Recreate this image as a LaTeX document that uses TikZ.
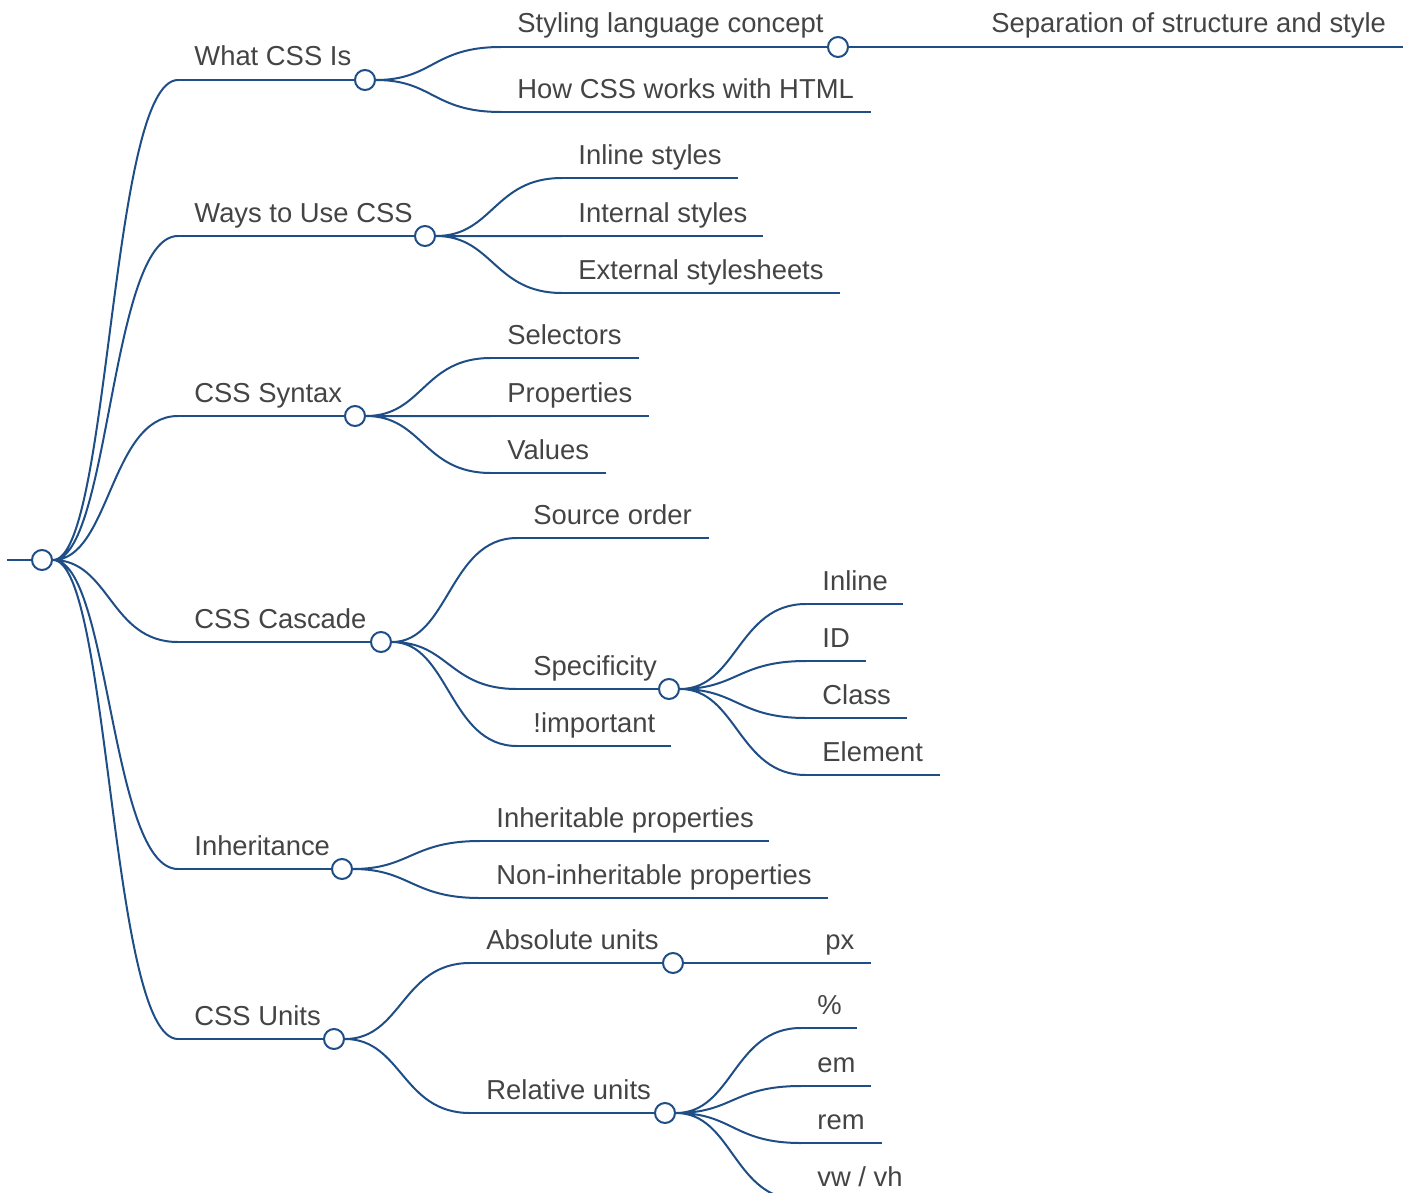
\documentclass[tikz,border=0pt]{standalone}
\usepackage{fontspec}
\setmainfont{Liberation Sans}
\usepackage{tikz}
\pgfdeclarelayer{background}
\pgfsetlayers{background,main}
\definecolor{mapblue}{RGB}{31,78,135}
\definecolor{mapgray}{RGB}{68,68,68}

\begin{document}
\begin{tikzpicture}[%
  x=0.5pt,y=-0.5pt,
  knob/.style={circle,draw=mapblue,fill=white,line width=1pt,minimum size=10pt,inner sep=0pt},
  topic/.style={anchor=base west,inner sep=0pt,text=mapgray,font=\fontsize{13.7}{16}\selectfont},
  bar/.style={draw=mapblue,line width=1pt},
  link/.style={bar,to path={.. controls +(68,0) and +(-68,0) .. (\tikztotarget)}}]
    \useasboundingbox (0,0) rectangle (1413,1193);
    % Root
    \coordinate (lead) at (7,560);
    \node[knob] (root) at (42,560) {};
    % What CSS Is
    \coordinate (what-s) at (178,80);
    \node[knob] (what) at (365,80) {};
    \node[topic] (what-t) at (194,66) {What CSS Is};
    \coordinate (styling-s) at (501,47);
    \node[knob] (styling) at (838,47) {};
    \node[topic] (styling-t) at (517,33) {Styling language concept};
    \coordinate (separation-s) at (975,47);
    \coordinate (separation-e) at (1403,47);
    \node[topic] (separation-t) at (991,33) {Separation of structure and style};
    \coordinate (howcss-s) at (501,112);
    \coordinate (howcss-e) at (871,112);
    \node[topic] (howcss-t) at (517,98) {How CSS works with HTML};
    % Ways to Use CSS
    \coordinate (ways-s) at (178,236);
    \node[knob] (ways) at (425,236) {};
    \node[topic] (ways-t) at (194,222) {Ways to Use CSS};
    \coordinate (inlinest-s) at (562,178);
    \coordinate (inlinest-e) at (738,178);
    \node[topic] (inlinest-t) at (578,164) {Inline styles};
    \coordinate (internal-s) at (562,236);
    \coordinate (internal-e) at (763,236);
    \node[topic] (internal-t) at (578,222) {Internal styles};
    \coordinate (external-s) at (562,293);
    \coordinate (external-e) at (840,293);
    \node[topic] (external-t) at (578,279) {External stylesheets};
    % CSS Syntax
    \coordinate (syntax-s) at (178,416);
    \node[knob] (syntax) at (355,416) {};
    \node[topic] (syntax-t) at (194,402) {CSS Syntax};
    \coordinate (selectors-s) at (491,358);
    \coordinate (selectors-e) at (639,358);
    \node[topic] (selectors-t) at (507,344) {Selectors};
    \coordinate (properties-s) at (491,416);
    \coordinate (properties-e) at (649,416);
    \node[topic] (properties-t) at (507,402) {Properties};
    \coordinate (values-s) at (491,473);
    \coordinate (values-e) at (606,473);
    \node[topic] (values-t) at (507,459) {Values};
    % CSS Cascade
    \coordinate (cascade-s) at (178,642);
    \node[knob] (cascade) at (381,642) {};
    \node[topic] (cascade-t) at (194,628) {CSS Cascade};
    \coordinate (source-s) at (517,538);
    \coordinate (source-e) at (709,538);
    \node[topic] (source-t) at (533,524) {Source order};
    \coordinate (specific-s) at (517,689);
    \node[knob] (specific) at (669,689) {};
    \node[topic] (specific-t) at (533,675) {Specificity};
    \coordinate (important-s) at (517,746);
    \coordinate (important-e) at (671,746);
    \node[topic] (important-t) at (533,732) {!important};
    \coordinate (inline-s) at (806,604);
    \coordinate (inline-e) at (903,604);
    \node[topic] (inline-t) at (822,590) {Inline};
    \coordinate (id-s) at (806,661);
    \coordinate (id-e) at (866,661);
    \node[topic] (id-t) at (822,647) {ID};
    \coordinate (class-s) at (806,718);
    \coordinate (class-e) at (907,718);
    \node[topic] (class-t) at (822,704) {Class};
    \coordinate (element-s) at (806,775);
    \coordinate (element-e) at (940,775);
    \node[topic] (element-t) at (822,761) {Element};
    % Inheritance
    \coordinate (inherit-s) at (178,869);
    \node[knob] (inherit) at (342,869) {};
    \node[topic] (inherit-t) at (194,855) {Inheritance};
    \coordinate (inheritable-s) at (480,841);
    \coordinate (inheritable-e) at (769,841);
    \node[topic] (inheritable-t) at (496,827) {Inheritable properties};
    \coordinate (noninherit-s) at (480,898);
    \coordinate (noninherit-e) at (828,898);
    \node[topic] (noninherit-t) at (496,884) {Non-inheritable properties};
    % CSS Units
    \coordinate (units-s) at (178,1039);
    \node[knob] (units) at (334,1039) {};
    \node[topic] (units-t) at (194,1025) {CSS Units};
    \coordinate (absolute-s) at (470,963);
    \node[knob] (absolute) at (673,963) {};
    \node[topic] (absolute-t) at (486,949) {Absolute units};
    \coordinate (px-s) at (809,963);
    \coordinate (px-e) at (871,963);
    \node[topic] (px-t) at (825,949) {px};
    \coordinate (relative-s) at (470,1113);
    \node[knob] (relative) at (665,1113) {};
    \node[topic] (relative-t) at (486,1099) {Relative units};
    \coordinate (percent-s) at (801,1028);
    \coordinate (percent-e) at (857,1028);
    \node[topic] (percent-t) at (817,1014) {\%};
    \coordinate (em-s) at (801,1086);
    \coordinate (em-e) at (871,1086);
    \node[topic] (em-t) at (817,1072) {em};
    \coordinate (rem-s) at (801,1143);
    \coordinate (rem-e) at (882,1143);
    \node[topic] (rem-t) at (817,1129) {rem};
    \coordinate (vwvh-s) at (801,1200);
    \coordinate (vwvh-e) at (870,1200);
    \node[topic] (vwvh-t) at (817,1186) {vw / vh};
    % Connectors
    \begin{pgfonlayer}{background}
      \draw[bar] (lead) -- (root);
      \draw[link] (root) to (what-s) (root) to (ways-s) (root) to (syntax-s)
        (root) to (cascade-s) (root) to (inherit-s) (root) to (units-s);
      \draw[bar] (what-s) -- (what) (ways-s) -- (ways) (syntax-s) -- (syntax)
        (cascade-s) -- (cascade) (inherit-s) -- (inherit) (units-s) -- (units);
      \draw[link] (what) to (styling-s) (what) to (howcss-s);
      \draw[bar] (styling-s) -- (styling) (howcss-s) -- (howcss-e);
      \draw[link] (styling) to (separation-s);
      \draw[bar] (separation-s) -- (separation-e);
      \draw[link] (ways) to (inlinest-s) (ways) to (internal-s) (ways) to (external-s);
      \draw[bar] (inlinest-s) -- (inlinest-e) (internal-s) -- (internal-e)
        (external-s) -- (external-e);
      \draw[link] (syntax) to (selectors-s) (syntax) to (properties-s) (syntax) to (values-s);
      \draw[bar] (selectors-s) -- (selectors-e) (properties-s) -- (properties-e)
        (values-s) -- (values-e);
      \draw[link] (cascade) to (source-s) (cascade) to (specific-s) (cascade) to (important-s);
      \draw[bar] (source-s) -- (source-e) (specific-s) -- (specific)
        (important-s) -- (important-e);
      \draw[link] (specific) to (inline-s) (specific) to (id-s)
        (specific) to (class-s) (specific) to (element-s);
      \draw[bar] (inline-s) -- (inline-e) (id-s) -- (id-e)
        (class-s) -- (class-e) (element-s) -- (element-e);
      \draw[link] (inherit) to (inheritable-s) (inherit) to (noninherit-s);
      \draw[bar] (inheritable-s) -- (inheritable-e) (noninherit-s) -- (noninherit-e);
      \draw[link] (units) to (absolute-s) (units) to (relative-s);
      \draw[bar] (absolute-s) -- (absolute) (relative-s) -- (relative);
      \draw[link] (absolute) to (px-s);
      \draw[bar] (px-s) -- (px-e);
      \draw[link] (relative) to (percent-s) (relative) to (em-s)
        (relative) to (rem-s) (relative) to (vwvh-s);
      \draw[bar] (percent-s) -- (percent-e) (em-s) -- (em-e)
        (rem-s) -- (rem-e) (vwvh-s) -- (vwvh-e);
    \end{pgfonlayer}
\end{tikzpicture}
\end{document}
